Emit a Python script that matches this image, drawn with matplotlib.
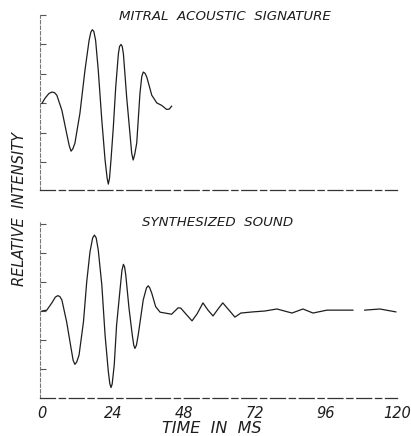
import matplotlib
matplotlib.use('Agg')
import matplotlib.pyplot as plt

# Mitral acoustic signature (time in ms, relative intensity)
mitral_t = [0.0, 1.0, 2.3, 3.3, 4.2, 5.0, 6.7, 8.3, 9.2, 9.8, 10.4, 11.1, 12.8, 14.5, 15.9,
            16.5, 17.0, 17.5, 18.1, 19.0, 20.2, 21.3, 22.0, 22.4, 22.8, 23.3, 24.1, 24.9,
            25.8, 26.2, 26.7, 27.1, 27.5, 28.6, 29.7, 30.3, 30.8, 31.3, 32.0, 33.1, 33.7,
            34.2, 34.8, 35.4, 37.1, 38.8, 40.4, 42.1, 43.0, 43.8]
mitral_v = [0.0, 0.17, 0.33, 0.38, 0.36, 0.27, -0.24, -1.02, -1.45, -1.63, -1.55, -1.36,
            -0.34, 1.12, 2.14, 2.42, 2.50, 2.44, 2.14, 1.12, -0.58, -1.93, -2.55, -2.75,
            -2.55, -1.93, -0.80, 0.55, 1.68, 1.93, 2.0, 1.93, 1.68, 0.21, -1.02, -1.70,
            -1.93, -1.75, -1.36, 0.34, 0.90, 1.06, 1.02, 0.89, 0.27, 0.01, -0.07, -0.21,
            -0.20, -0.10]

# Synthesized sound (first segment, then short segment after the gap)
synth_t = [0.0, 1.6, 3.3, 4.5, 5.3, 6.0, 6.7, 8.3, 9.8, 10.5, 11.1, 11.7, 12.5, 14.0,
           15.1, 16.2, 17.1, 17.7, 18.3, 19.0, 20.2, 21.3, 22.4, 22.9, 23.3, 23.7, 24.4,
           25.2, 26.4, 27.0, 27.5, 27.9, 28.3, 29.4, 30.5, 31.0, 31.4, 31.9, 32.5, 34.2,
           35.3, 35.9, 36.4, 37.1, 38.4, 39.9, 42.1, 43.8, 46.0, 46.9, 48.6, 50.7, 52.4,
           54.4, 56.1, 57.8, 59.5, 61.1, 63.2, 65.2, 67.2, 71.3, 75.3, 79.4, 84.5, 88.2,
           91.6, 96.3, 105.1]
synth_v = [0.0, 0.03, 0.28, 0.48, 0.53, 0.50, 0.38, -0.37, -1.28, -1.70, -1.84, -1.76,
           -1.52, -0.37, 1.01, 2.04, 2.52, 2.62, 2.52, 2.10, 0.90, -0.83, -2.09, -2.50,
           -2.64, -2.52, -1.86, -0.48, 0.78, 1.40, 1.61, 1.52, 1.24, 0.09, -0.83, -1.18,
           -1.29, -1.18, -0.83, 0.38, 0.80, 0.87, 0.80, 0.61, 0.15, -0.04, -0.08, -0.11,
           0.11, 0.10, -0.10, -0.34, -0.10, 0.28, 0.03, -0.17, 0.07, 0.28, 0.03, -0.21,
           -0.07, -0.03, 0.0, 0.07, -0.07, 0.07, -0.07, 0.03, 0.03]
synth_tail_t = [109.1, 114.2, 119.6]
synth_tail_v = [0.03, 0.07, -0.03]

x_ticks = [0, 24, 48, 72, 96, 120]
y_ticks = [-2, -1, 0, 1, 2, 3]

ink = '#1e1e1e'
font = {'family': 'DejaVu Sans', 'style': 'italic', 'color': ink}

fig = plt.figure(figsize=(4.11, 4.36), dpi=100)
W, H = 411.0, 436.0

def make_axes(top_px, bottom_px, ylim):
    ax = fig.add_axes([40 / W, 1 - bottom_px / H, 357 / W, (bottom_px - top_px) / H])
    ax.set_xlim(-0.7, 120)
    ax.set_ylim(*ylim)
    for s in ['top', 'right']:
        ax.spines[s].set_visible(False)
    ax.spines['left'].set_color('#777777')
    ax.spines['left'].set_linewidth(0.8)
    ax.spines['left'].set_linestyle((0, (3, 2)))
    ax.spines['bottom'].set_color('#333333')
    ax.spines['bottom'].set_linewidth(0.9)
    ax.spines['bottom'].set_linestyle((0, (12, 3, 5, 3)))
    ax.set_yticks(y_ticks)
    ax.tick_params(axis='y', direction='in', length=4, width=0.8, color='#555555',
                   labelleft=False)
    ax.set_xticks(x_ticks)
    ax.tick_params(axis='x', length=0, labelbottom=False)
    return ax

ax1 = make_axes(15, 190, (-2.95, 3.0))
ax1.plot(mitral_t, mitral_v, color=ink, lw=0.9)

ax2 = make_axes(222, 398, (-3.0, 3.07))
ax2.plot(synth_t, synth_v, color=ink, lw=0.9)
ax2.plot(synth_tail_t, synth_tail_v, color=ink, lw=0.9)
ax2.tick_params(axis='x', labelbottom=True, pad=6)
ax2.set_xticklabels([str(v) for v in x_ticks], fontdict=dict(font, size=10.5))

fig.text(225 / W, 1 - 16 / H, 'MITRAL  ACOUSTIC  SIGNATURE', ha='center', va='center',
         fontsize=9.6, **font)
fig.text(218 / W, 1 - 222 / H, 'SYNTHESIZED  SOUND', ha='center', va='center',
         fontsize=9.6, **font)
fig.text(212 / W, 1 - 428 / H, 'TIME  IN  MS', ha='center', va='center',
         fontsize=11.5, **font)
fig.text(19 / W, 1 - 209 / H, 'RELATIVE  INTENSITY', ha='center', va='center',
         rotation=90, fontsize=10.5, **font)

fig.savefig('out.png', dpi=100)
